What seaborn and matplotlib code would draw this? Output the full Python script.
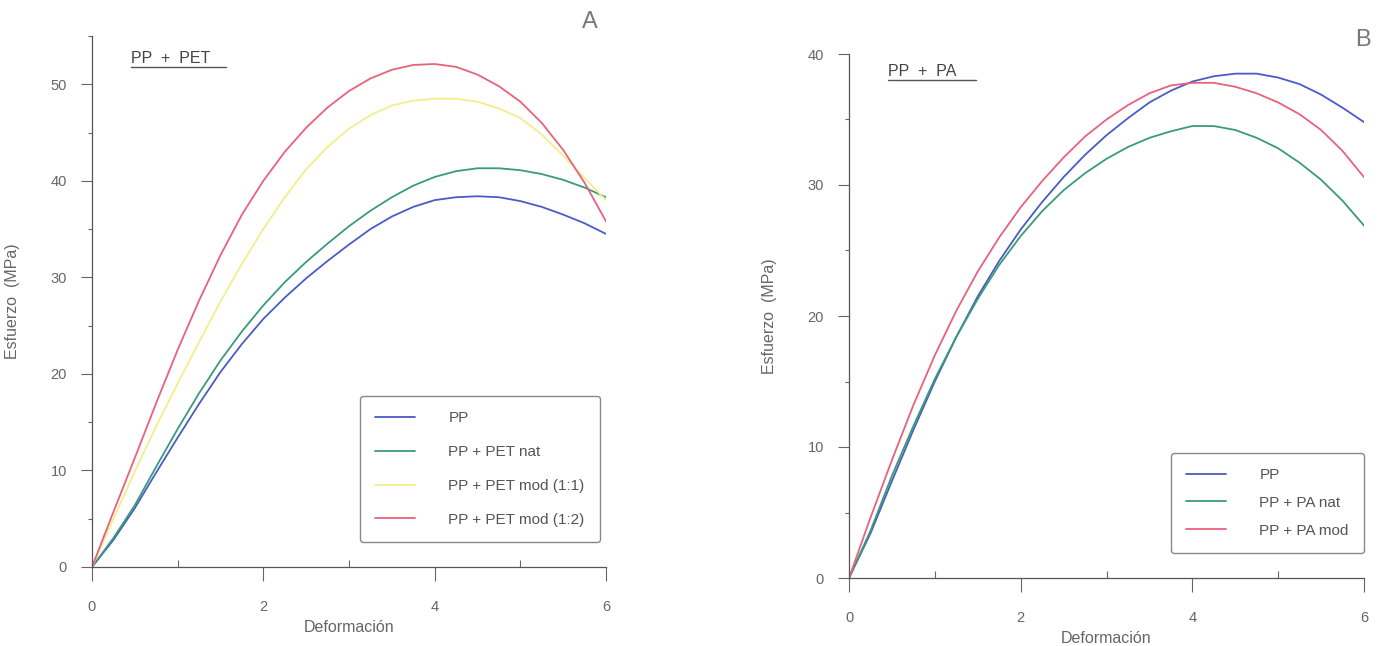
import numpy as np
import pandas as pd
import matplotlib
matplotlib.use('Agg')
import matplotlib.pyplot as plt
from matplotlib.ticker import MultipleLocator
from matplotlib.lines import Line2D
import seaborn as sns

# strain grid shared by all curves
deformacion = [0, 0.25, 0.5, 0.75, 1, 1.25, 1.5, 1.75, 2, 2.25, 2.5, 2.75, 3,
               3.25, 3.5, 3.75, 4, 4.25, 4.5, 4.75, 5, 5.25, 5.5, 5.75, 6]

# panel A: PP + PET
labels_a = ['PP', 'PP + PET nat', 'PP + PET mod (1:1)', 'PP + PET mod (1:2)']
pp_a = [0, 2.8, 6.1, 9.8, 13.4, 16.9, 20.2, 23.1, 25.7, 27.9, 29.9, 31.7, 33.4,
        35.0, 36.3, 37.3, 38.0, 38.3, 38.4, 38.3, 37.9, 37.3, 36.5, 35.6, 34.5]
pet_nat = [0, 3.0, 6.4, 10.4, 14.3, 18.0, 21.4, 24.4, 27.1, 29.5, 31.6, 33.5, 35.3,
           36.9, 38.3, 39.5, 40.4, 41.0, 41.3, 41.3, 41.1, 40.7, 40.1, 39.3, 38.3]
pet_mod_11 = [0, 5.0, 9.9, 14.6, 19.0, 23.3, 27.5, 31.4, 35.0, 38.3, 41.2, 43.5, 45.4,
              46.8, 47.8, 48.3, 48.5, 48.5, 48.2, 47.5, 46.5, 44.8, 42.6, 40.3, 38.0]
pet_mod_12 = [0, 5.7, 11.3, 17.0, 22.5, 27.6, 32.3, 36.5, 40.0, 43.0, 45.5, 47.6, 49.3,
              50.6, 51.5, 52.0, 52.1, 51.8, 51.0, 49.8, 48.2, 46.0, 43.2, 39.8, 35.8]

# panel B: PP + PA
labels_b = ['PP', 'PP + PA nat', 'PP + PA mod']
pp_b = [0, 3.4, 7.4, 11.3, 15.0, 18.4, 21.5, 24.2, 26.6, 28.7, 30.6, 32.3, 33.8,
        35.1, 36.3, 37.2, 37.9, 38.3, 38.5, 38.5, 38.2, 37.7, 36.9, 35.9, 34.8]
pa_nat = [0, 3.6, 7.8, 11.6, 15.2, 18.4, 21.3, 23.9, 26.1, 28.0, 29.6, 30.9, 32.0,
          32.9, 33.6, 34.1, 34.5, 34.5, 34.2, 33.6, 32.8, 31.7, 30.4, 28.8, 26.9]
pa_mod = [0, 4.6, 9.0, 13.2, 17.0, 20.4, 23.4, 26.0, 28.3, 30.3, 32.1, 33.7, 35.0,
          36.1, 37.0, 37.6, 37.8, 37.8, 37.5, 37.0, 36.3, 35.4, 34.2, 32.6, 30.6]

colors_a = ['#4a5cc4', '#3a9a7c', '#f3ee8c', '#e8627c']
colors_b = ['#4a5cc4', '#3a9a7c', '#e8627c']

df_a = pd.DataFrame({
    'Deformacion': deformacion * 4,
    'Esfuerzo': pp_a + pet_nat + pet_mod_11 + pet_mod_12,
    'serie': [s for s in labels_a for _ in deformacion],
})
df_b = pd.DataFrame({
    'Deformacion': deformacion * 3,
    'Esfuerzo': pp_b + pa_nat + pa_mod,
    'serie': [s for s in labels_b for _ in deformacion],
})

sns.set_style('ticks')
plt.rcParams['font.family'] = ['Liberation Sans', 'DejaVu Sans']
grey = '#666666'

fig = plt.figure(figsize=(13.78, 6.46), dpi=100)
ax_a = fig.add_axes([92 / 1378, 79 / 646, 514 / 1378, 531 / 646])
ax_b = fig.add_axes([849 / 1378, 68 / 646, 515 / 1378, 524 / 646])

sns.lineplot(data=df_a, x='Deformacion', y='Esfuerzo', hue='serie', hue_order=labels_a,
             palette=dict(zip(labels_a, colors_a)), linewidth=1.3, ax=ax_a)
sns.lineplot(data=df_b, x='Deformacion', y='Esfuerzo', hue='serie', hue_order=labels_b,
             palette=dict(zip(labels_b, colors_b)), linewidth=1.3, ax=ax_b)

ax_a.set_ylim(0, 55)
ax_b.set_ylim(0, 40)

for ax in (ax_a, ax_b):
    ax.set_xlim(0, 6)
    ax.xaxis.set_major_locator(MultipleLocator(2))
    ax.xaxis.set_minor_locator(MultipleLocator(1))
    ax.yaxis.set_major_locator(MultipleLocator(10))
    ax.yaxis.set_minor_locator(MultipleLocator(5))
    ax.tick_params(which='major', direction='out', length=8, width=0.8,
                   color=grey, labelcolor=grey, labelsize=10.5)
    ax.tick_params(axis='x', which='major', length=10, pad=14)
    ax.tick_params(axis='y', which='major', pad=10)
    ax.tick_params(axis='x', which='minor', direction='in', length=5, width=0.8, color=grey)
    ax.tick_params(axis='y', which='minor', direction='out', length=3, width=0.8, color=grey)
    sns.despine(ax=ax)
    for sp in ('left', 'bottom'):
        ax.spines[sp].set_color('#555555')
        ax.spines[sp].set_linewidth(0.9)
    ax.set_xlabel('Deformación', color=grey, fontsize=11.5, labelpad=4)
    ax.set_ylabel('Esfuerzo  (MPa)', color=grey, fontsize=11.5, labelpad=22)

# underlined blend titles
for ax, txt, x, y, w, off in ((ax_a, 'PP  +  PET', 0.075, 0.958, 0.185, 0.017),
                              (ax_b, 'PP  +  PA', 0.076, 0.966, 0.17, 0.015)):
    ax.text(x, y, txt, transform=ax.transAxes, color='#444444', fontsize=11.5,
            ha='left', va='center')
    ax.add_line(Line2D([x, x + w], [y - off, y - off], transform=ax.transAxes,
                       color='#555555', linewidth=1.0, clip_on=False))

fig.text(590 / 1378, 1 - 22 / 646, 'A', color='#777777', fontsize=17, ha='center', va='center')
fig.text(1363 / 1378, 1 - 40 / 646, 'B', color='#777777', fontsize=17, ha='center', va='center')

legend_kw = dict(title=None, frameon=True, fancybox=True, fontsize=11, handlelength=2.6,
                 handletextpad=2.2, borderpad=1.0, borderaxespad=0, framealpha=1,
                 edgecolor='#888888')
sns.move_legend(ax_a, 'lower right', bbox_to_anchor=(0.988, 0.047), labelspacing=1.3,
                **legend_kw)
sns.move_legend(ax_b, 'lower right', bbox_to_anchor=(1.0, 0.048), labelspacing=0.9,
                **legend_kw)
for ax in (ax_a, ax_b):
    for t in ax.get_legend().get_texts():
        t.set_color('#555555')

fig.savefig('out.png', dpi=100, facecolor='white')
